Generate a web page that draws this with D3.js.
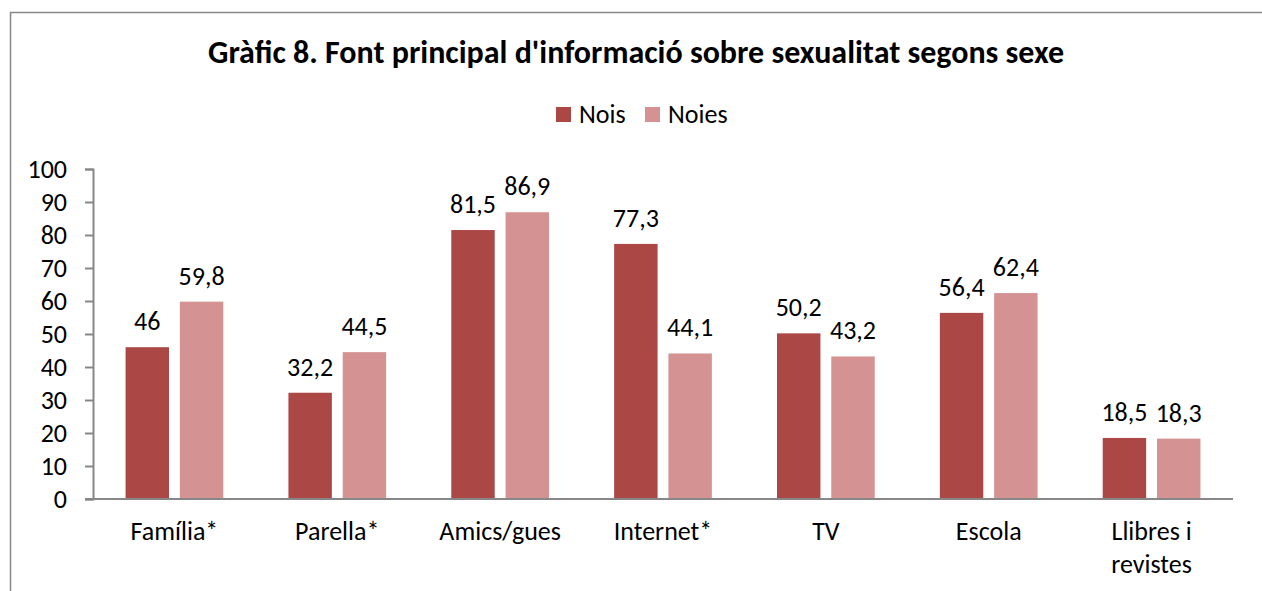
<!DOCTYPE html>
<html>
<head>
<meta charset="utf-8">
<script src="https://cdn.jsdelivr.net/npm/d3@7"></script>
<style>
html,body{margin:0;padding:0;background:#fff;}
svg{display:block;}
text{font-family:Calibri,Carlito,Lato,"Open Sans",sans-serif;fill:#000;}
</style>
</head>
<body>
<svg id="chart" width="1262" height="591"></svg>
<script>
const title = "Gràfic 8. Font principal d'informació sobre sexualitat segons sexe";
const categories = ["Família*", "Parella*", "Amics/gues", "Internet*", "TV", "Escola", "Llibres i revistes"];
const seriesNames = ["Nois", "Noies"];
const nois = [46, 32.2, 81.5, 77.3, 50.2, 56.4, 18.5];
const noies = [59.8, 44.5, 86.9, 44.1, 43.2, 62.4, 18.3];
const yTicks = [0, 10, 20, 30, 40, 50, 60, 70, 80, 90, 100];
const colors = ["#AB4745", "#D49292"];

const svg = d3.select("#chart");
const FS = "26px";

// frame
svg.append("rect").attr("x", 10.5).attr("y", 12.5).attr("width", 1262).attr("height", 600)
  .attr("fill", "#fff").attr("stroke", "#878787").attr("stroke-width", 1.5);

const m = {left: 93, right: 1233, top: 169, bottom: 499};
const x = d3.scaleBand().domain(categories).range([m.left, m.right]).padding(0);
const bw = x.bandwidth();
const xs = d3.scaleBand().domain(seriesNames).range([bw * 0.2, bw * 0.8]).paddingInner(0.2);
const y = d3.scaleLinear().domain([0, 100]).range([m.bottom, m.top]);

// title
svg.append("text").attr("x", 636).attr("y", 63).attr("text-anchor", "middle")
  .style("font-weight", "bold").style("font-size", "32px").text(title);

// legend
const legend = svg.append("g");
const legX = [556, 645];
seriesNames.forEach((s, i) => {
  legend.append("rect").attr("x", legX[i]).attr("y", 107).attr("width", 15).attr("height", 15).attr("fill", colors[i]);
  legend.append("text").attr("x", legX[i] + 23).attr("y", 123).style("font-size", FS).text(s);
});

// y axis
const yAxis = d3.axisLeft(y).tickValues(yTicks).tickSize(8).tickPadding(18).tickFormat(d3.format("d"));
const gy = svg.append("g").attr("transform", `translate(${m.left},0)`).call(yAxis);
gy.select(".domain").attr("stroke", "#878787").attr("stroke-width", 2);
gy.selectAll(".tick line").attr("stroke", "#878787").attr("stroke-width", 2);
gy.selectAll(".tick text").style("font-size", FS).style("font-family", "Calibri,Carlito,Lato,sans-serif").attr("fill", "#000");

// bars
const data = categories.map((c, i) => ({cat: c, vals: [nois[i], noies[i]]}));
const groups = svg.append("g").selectAll("g").data(data).join("g")
  .attr("transform", d => `translate(${x(d.cat)},0)`);
groups.selectAll("rect").data(d => d.vals.map((v, j) => ({s: seriesNames[j], v, j}))).join("rect")
  .attr("x", d => xs(d.s)).attr("width", xs.bandwidth())
  .attr("y", d => y(d.v)).attr("height", d => y(0) - y(d.v))
  .attr("fill", d => colors[d.j]);
const fmt = v => String(v).replace(".", ",");
groups.selectAll("text").data(d => d.vals.map((v, j) => ({s: seriesNames[j], v, j}))).join("text")
  .attr("x", d => xs(d.s) + xs.bandwidth() / 2).attr("y", d => y(d.v) - 17)
  .attr("text-anchor", "middle").style("font-size", FS).text(d => fmt(d.v));

// x axis line
svg.append("line").attr("x1", m.left - 8).attr("x2", m.right).attr("y1", m.bottom).attr("y2", m.bottom)
  .attr("stroke", "#878787").attr("stroke-width", 2);

// category labels
const labelLines = {"Llibres i revistes": ["Llibres i", "revistes"]};
categories.forEach(c => {
  const lines = labelLines[c] || [c];
  const t = svg.append("text").attr("text-anchor", "middle").style("font-size", FS);
  lines.forEach((ln, k) => {
    t.append("tspan").attr("x", x(c) + bw / 2).attr("y", 540 + k * 33).text(ln);
  });
});
</script>
</body>
</html>
